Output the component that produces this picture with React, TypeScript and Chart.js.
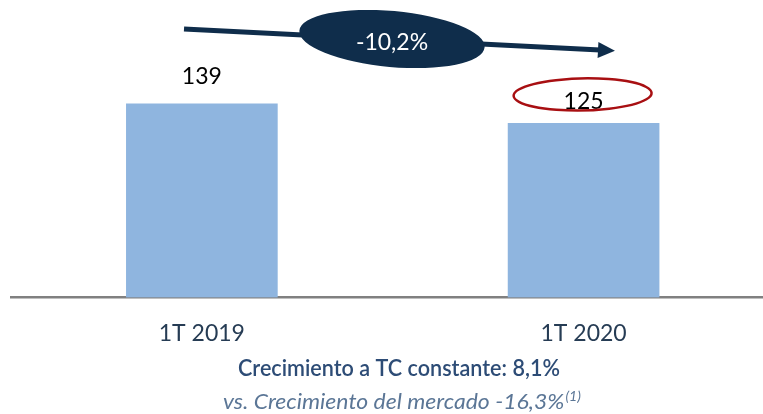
import React, { useEffect, useRef } from "react";
import { Chart, registerables } from "chart.js";

Chart.register(...registerables);

const categories = ["1T 2019", "1T 2020"];
const values = [139, 125];
const changeLabel = "-10,2%";
const footLine1 = "Crecimiento a TC constante: 8,1%";
const footLine2 = "vs. Crecimiento del mercado -16,3%";
const footNoteMark = "(1)";

const FONT = "Lato, 'Open Sans', sans-serif";

const overlayPlugin = {
  id: "overlay",
  afterDraw(chart: any) {
    const ctx: CanvasRenderingContext2D = chart.ctx;
    const meta = chart.getDatasetMeta(0);
    ctx.save();

    // value labels
    const offsets = [27, 22];
    ctx.font = `400 23px ${FONT}`;
    ctx.fillStyle = "#000000";
    ctx.textAlign = "center";
    ctx.textBaseline = "middle";
    meta.data.forEach((el: any, i: number) => {
      ctx.fillText(String(values[i]), el.x, el.y - offsets[i]);
    });

    // red hand-drawn ellipse around last value
    const last = meta.data[meta.data.length - 1];
    if (last) {
      const cx = last.x - 1;
      const cy = last.y - 29;
      ctx.strokeStyle = "#a80f12";
      ctx.lineWidth = 2.5;
      ctx.beginPath();
      ctx.ellipse(cx, cy, 69, 16, -0.02, 2.75, 2.75 + Math.PI * 2 + 0.35);
      ctx.stroke();
    }

    // arrow
    const navy = "#0f2d4b";
    const x0 = 184, y0 = 29, x1 = 600, y1 = 50;
    const ang = Math.atan2(y1 - y0, x1 - x0);
    ctx.strokeStyle = navy;
    ctx.lineWidth = 5;
    ctx.beginPath();
    ctx.moveTo(x0, y0);
    ctx.lineTo(x1, y1);
    ctx.stroke();
    ctx.fillStyle = navy;
    ctx.save();
    ctx.translate(x1 - 2, y1);
    ctx.rotate(ang);
    ctx.beginPath();
    ctx.moveTo(17, 0);
    ctx.lineTo(0, -8);
    ctx.lineTo(0, 8);
    ctx.closePath();
    ctx.fill();
    ctx.restore();

    // change bubble
    ctx.beginPath();
    ctx.ellipse(392, 39, 93, 28, 0.09, 0, Math.PI * 2);
    ctx.fill();
    ctx.fillStyle = "#ffffff";
    ctx.font = `400 23px ${FONT}`;
    ctx.textAlign = "center";
    ctx.textBaseline = "middle";
    ctx.fillText(changeLabel, 392, 43);

    // footer line 1 (narrowed to emulate condensed face)
    ctx.textBaseline = "alphabetic";
    ctx.textAlign = "left";
    ctx.fillStyle = "#2d4c76";
    ctx.font = `normal 600 22px ${FONT}`;
    const w1 = ctx.measureText(footLine1).width;
    const k1 = 322 / w1;
    ctx.save();
    ctx.translate(399 - 161, 376);
    ctx.scale(k1, 1);
    ctx.fillText(footLine1, 0, 0);
    ctx.restore();

    // footer line 2
    ctx.font = `italic 400 21px ${FONT}`;
    const w2 = ctx.measureText(footLine2).width;
    ctx.font = `italic 400 13px ${FONT}`;
    const w3 = ctx.measureText(footNoteMark).width;
    const k2 = 358 / (w2 + w3 + 1);
    ctx.fillStyle = "#5b7696";
    ctx.save();
    ctx.translate(223, 409);
    ctx.scale(k2, 1);
    ctx.font = `italic 400 21px ${FONT}`;
    ctx.fillText(footLine2, 0, 0);
    ctx.font = `italic 400 13px ${FONT}`;
    ctx.fillText(footNoteMark, w2 + 1, -8);
    ctx.restore();

    ctx.restore();
  },
};

export default function App() {
  const ref = useRef<HTMLCanvasElement>(null);
  useEffect(() => {
    if (!ref.current) return;
    const chart = new Chart(ref.current, {
      type: "bar",
      data: {
        datasets: [
          {
            data: values.map((v, i) => ({ x: i, y: v })),
            backgroundColor: "#8fb5df",
            borderWidth: 0,
            barThickness: 151,
          },
        ],
      },
      options: {
        responsive: false,
        animation: false,
        devicePixelRatio: 1,
        layout: { padding: { left: 11, right: 0, top: 19, bottom: 45 } },
        plugins: { legend: { display: false }, tooltip: { enabled: false } },
        scales: {
          x: {
            type: "linear",
            offset: false,
            min: -0.5,
            max: 1.47,
            grid: { display: false, drawTicks: false, offset: false },
            border: { display: true, color: "#808080", width: 2.5 },
            afterBuildTicks: (scale: any) => {
              scale.ticks = categories.map((_, i) => ({ value: i }));
            },
            ticks: {
              padding: 22,
              color: "#263c54",
              font: { family: FONT, size: 23 },
              callback: (v: any) => categories[Number(v)] ?? "",
            },
          },
          y: {
            display: false,
            min: 0,
            max: 200,
          },
        },
      },
      plugins: [overlayPlugin],
    });
    return () => chart.destroy();
  }, []);
  return (
    <div style={{ position: "fixed", left: 0, top: 0, width: 763, height: 414, background: "#fff" }}>
      <canvas ref={ref} width={763} height={414} style={{ width: 763, height: 414, display: "block" }} />
    </div>
  );
}
